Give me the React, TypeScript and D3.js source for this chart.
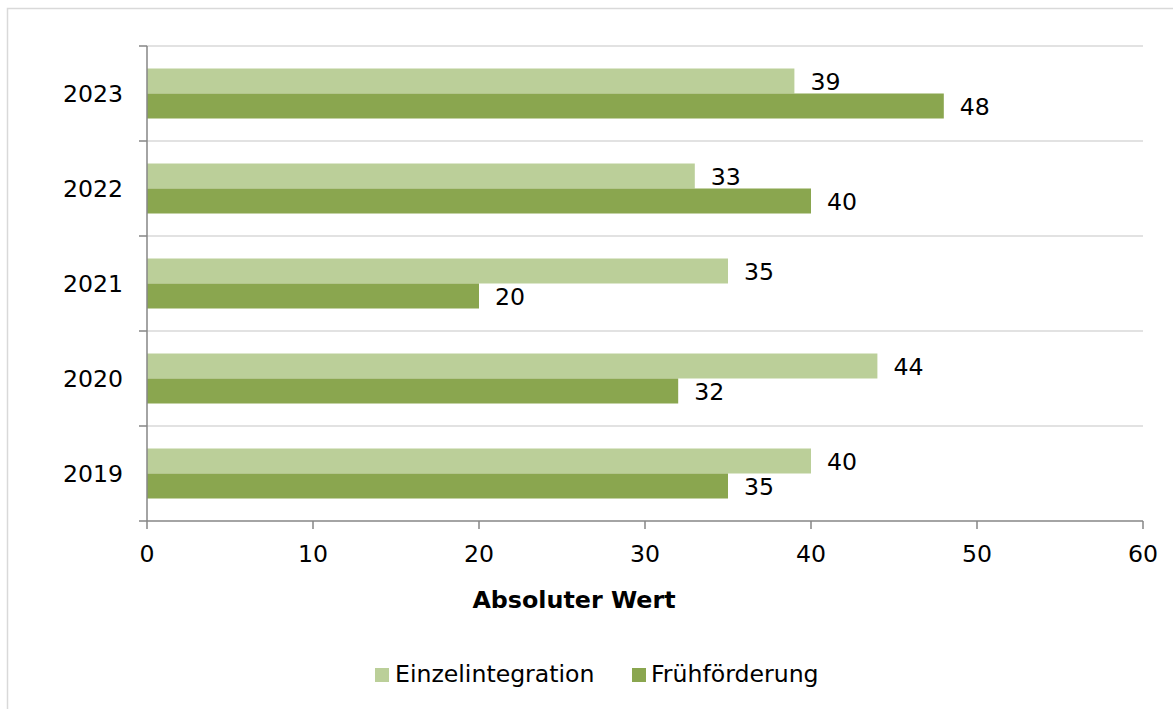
import React from "react";
import * as d3 from "d3";

const years = ["2023", "2022", "2021", "2020", "2019"];
const einzel = [39, 33, 35, 44, 40];
const frueh = [48, 40, 20, 32, 35];
const seriesNames = ["Einzelintegration", "Frühförderung"];
const colors = ["#bbcf99", "#8aa64f"];
const xTicks = [0, 10, 20, 30, 40, 50, 60];

const W = 1173;
const H = 709;
const FONT = "'DejaVu Sans', Verdana, sans-serif";
const FS = 23.6;

export default function App() {
  const x = d3.scaleLinear().domain([0, 60]).range([147, 1143]);
  const y = d3.scaleBand().domain(years).range([46, 521]);
  const inner = d3.scaleBand().domain(["0", "1"]).range([0, y.bandwidth()]).paddingOuter(0.9).paddingInner(0);
  const series = [einzel, frueh];
  const boundaries = years.map((yr) => y(yr) as number);

  return (
    <svg width={W} height={H} style={{ position: "absolute", left: 0, top: 0, fontFamily: FONT }}>
      <rect x={0} y={0} width={W} height={H} fill="#fff" />
      <rect x={7.5} y={8.5} width={W + 10} height={H + 10} fill="none" stroke="#d9d9d9" strokeWidth={1.5} />
      {boundaries.map((b, i) => (
        <line key={i} x1={147} x2={1143} y1={b} y2={b} stroke="#d9d9d9" strokeWidth={1.5} />
      ))}
      {series.map((vals, si) =>
        years.map((yr, i) => {
          const by = (y(yr) as number) + (inner(String(si)) as number);
          const bw = inner.bandwidth();
          return (
            <g key={yr + si}>
              <rect x={x(0)} y={by} width={x(vals[i]) - x(0)} height={bw} fill={colors[si]} />
              <text x={x(vals[i]) + 16} y={by + bw / 2 + 9} fontSize={FS} fill="#000">
                {vals[i]}
              </text>
            </g>
          );
        })
      )}
      {/* axes */}
      <line x1={147} x2={147} y1={46} y2={521} stroke="#868686" strokeWidth={1.5} />
      <line x1={147} x2={1143} y1={521} y2={521} stroke="#868686" strokeWidth={1.5} />
      {[...boundaries, 521].map((b, i) => (
        <line key={"yt" + i} x1={139} x2={147} y1={b} y2={b} stroke="#868686" strokeWidth={1.5} />
      ))}
      {xTicks.map((t) => (
        <g key={"xt" + t}>
          <line x1={x(t)} x2={x(t)} y1={521} y2={529} stroke="#868686" strokeWidth={1.5} />
          <text x={x(t)} y={562} textAnchor="middle" fontSize={FS} fill="#000">
            {t}
          </text>
        </g>
      ))}
      {years.map((yr) => (
        <text key={"yl" + yr} x={123} y={(y(yr) as number) + y.bandwidth() / 2 + 8.5} textAnchor="end" fontSize={FS} fill="#000">
          {yr}
        </text>
      ))}
      <text x={574} y={608} textAnchor="middle" fontSize={23.8} fontWeight="bold" fill="#000">
        Absoluter Wert
      </text>
      {/* legend */}
      <rect x={375} y={668} width={14} height={14} fill={colors[0]} />
      <text x={395} y={682} fontSize={FS} fill="#000">{seriesNames[0]}</text>
      <rect x={632} y={668} width={14} height={14} fill={colors[1]} />
      <text x={651} y={682} fontSize={FS} fill="#000">{seriesNames[1]}</text>
    </svg>
  );
}
